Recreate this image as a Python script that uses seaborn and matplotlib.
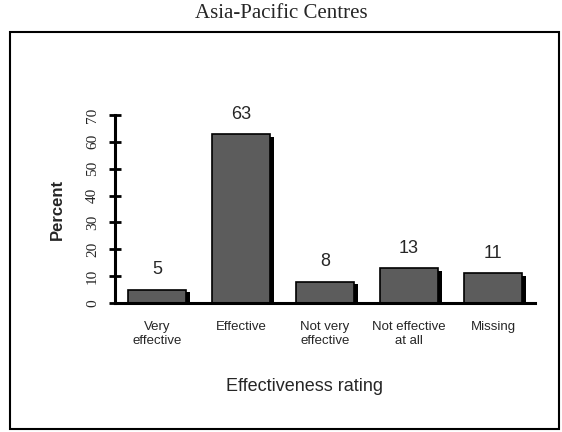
import matplotlib
matplotlib.use("Agg")
import matplotlib.pyplot as plt
import matplotlib.patheffects as pe
from matplotlib.patches import Rectangle
import seaborn as sns
import pandas as pd
import numpy as np

categories = ["Very\neffective", "Effective", "Not very\neffective",
              "Not effective\nat all", "Missing"]
percent = [5, 63, 8, 13, 11]
yticks = [0, 10, 20, 30, 40, 50, 60, 70]

sns.set_style("white")
plt.rcParams["font.family"] = ["Liberation Sans", "DejaVu Sans"]

df = pd.DataFrame({"rating": categories, "percent": percent})

fig = plt.figure(figsize=(5.62, 4.32), dpi=100)
ax = fig.add_axes([115 / 562, 1 - 303 / 432, 420 / 562, 188 / 432])

sns.barplot(data=df, x="rating", y="percent", color="#5c5c5c", width=0.68,
            saturation=1, edgecolor="black", linewidth=1.2, ax=ax)
for p in ax.patches:
    p.set_path_effects([pe.SimplePatchShadow(offset=(3.5, -2), shadow_rgbFace="black", alpha=1),
                        pe.Normal()])

for i, v in enumerate(percent):
    ax.annotate(str(v), (i, v), xytext=(0, 8), textcoords="offset points",
                ha="center", va="bottom", fontsize=13)

ax.set_xlim(-0.5, len(categories) - 0.5)
ax.set_ylim(0, 70)
ax.set_yticks(yticks)
ax.set_yticklabels([str(t) for t in yticks], rotation=90, va="center",
                   family="Liberation Serif", fontsize=11)
ax.set_xticks(range(len(categories)))
ax.set_xticklabels(categories, fontsize=9.5)
ax.set_xticks(np.arange(-0.5, len(categories)), minor=True)
ax.tick_params(axis="x", which="major", length=0, pad=13)
ax.tick_params(axis="x", which="minor", length=9, width=2, direction="inout", color="black")
ax.tick_params(axis="y", length=9, width=2, direction="inout", color="black", left=True, pad=7)

for s in ["top", "right"]:
    ax.spines[s].set_visible(False)
for s in ["left", "bottom"]:
    ax.spines[s].set_linewidth(2.2)
    ax.spines[s].set_color("black")

ax.set_ylabel("Percent", fontsize=12, fontweight="bold")
ax.yaxis.set_label_coords(-0.12, 0.5)
ax.set_xlabel("Effectiveness rating", fontsize=13)
ax.xaxis.set_label_coords(0.45, -0.40)

fig.text(0.5, 1 - 14 / 432, "Asia-Pacific Centres", ha="center", va="center",
         family="Liberation Serif", fontsize=15)
fig.patches.append(Rectangle((10 / 562, 3 / 432), 549 / 562, 397 / 432,
                             transform=fig.transFigure, fill=False,
                             edgecolor="black", linewidth=1.5))

fig.savefig("out.png", dpi=100)
